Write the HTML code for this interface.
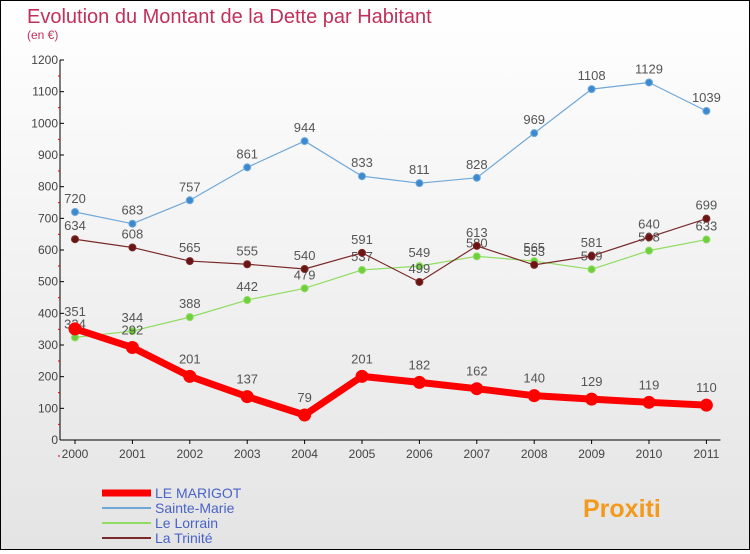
<!DOCTYPE html>
<html><head><meta charset="utf-8"><style>
body{margin:0}
#c{width:748px;height:548px;border:1px solid #000;background:linear-gradient(#fff,#e4e4e4);position:relative;font-family:"Liberation Sans",sans-serif}
text{font-family:"Liberation Sans",sans-serif}
</style></head><body>
<div id="c">
<svg id="s" width="748" height="548"></svg>
</div>
<script>
const years=[2000,2001,2002,2003,2004,2005,2006,2007,2008,2009,2010,2011];
const marigot=[351,292,201,137,79,201,182,162,140,129,119,110];
const sainteMarie=[720,683,757,861,944,833,811,828,969,1108,1129,1039];
const lorrain=[324,344,388,442,479,537,549,580,565,539,598,633];
const trinite=[634,608,565,555,540,591,499,613,553,581,640,699];
const yTicks=[0,100,200,300,400,500,600,700,800,900,1000,1100,1200];
const NS="http://www.w3.org/2000/svg";
const s=document.getElementById('s');
function X(i){return 74+i*57.4;}
function Y(v){return 439-v*380/1200;}
function el(t,a,p){const e=document.createElementNS(NS,t);for(const k in a)e.setAttribute(k,a[k]);(p||s).appendChild(e);return e;}
let t=el('text',{x:26,y:22,fill:'#c0305a','font-size':20});t.textContent='Evolution du Montant de la Dette par Habitant';


t=el('text',{x:26,y:38,fill:'#c0305a','font-size':12});t.textContent='(en €)';


let ax=el('line',{x1:59,y1:Y(1200),x2:59,y2:Y(0),stroke:'#000'});


ax=el('line',{x1:59,y1:Y(0),x2:X(11)+14,y2:Y(0),stroke:'#000'});


yTicks.forEach(v=>{el('line',{x1:59,y1:Y(v),x2:63,y2:Y(v),stroke:'#000'});
el('line',{x1:57,y1:Y(v)+16,x2:59,y2:Y(v)+16,stroke:'#d00'});
const l=el('text',{x:57,y:Y(v)+4,'text-anchor':'end','font-size':12,fill:'#444'});l.textContent=v;

});
years.forEach((y,i)=>{el('line',{x1:X(i),y1:Y(0),x2:X(i),y2:Y(0)+4,stroke:'#000'});
const l=el('text',{x:X(i),y:Y(0)+18,'text-anchor':'middle','font-size':12,fill:'#444'});l.textContent=y;

});
function series(name,data,color,w,r,fill,dy){
const g=el('g',{});


el('polyline',{points:data.map((v,i)=>X(i)+','+Y(v)).join(' '),fill:'none',stroke:color,'stroke-width':w,'stroke-linejoin':'round'},g);
data.forEach((v,i)=>{const c=el('circle',{cx:X(i),cy:Y(v),r:r,fill:fill,stroke:color,'stroke-width':1},g);


const l=el('text',{x:X(i),y:Y(v)+dy,'text-anchor':'middle','font-size':13,fill:'#555'},g);l.textContent=v;

});}
series('series-sainte-marie',sainteMarie,'#6fa8d8',1.2,3.5,'#3b8ad0',-9);
series('series-lorrain',lorrain,'#8fdc60',1.2,3.5,'#6ecf3c',-9);
series('series-trinite',trinite,'#7a2a2a',1.2,3.5,'#6a1414',-9);
series('series-marigot',marigot,'#f00',7,6,'#f00',-13);
const leg=[['LE MARIGOT','#f00',7],['Sainte-Marie','#6fa8d8',2],['Le Lorrain','#8fdc60',2],['La Trinité','#7a2a2a',2]];
leg.forEach((d,i)=>{const g=el('g',{});


const y=492+i*15;el('line',{x1:101,y1:y,x2:150,y2:y,stroke:d[1],'stroke-width':d[2]},g);
const l=el('text',{x:154,y:y+5,'font-size':14,fill:'#4a63c8'},g);l.textContent=d[0];});
t=el('text',{x:582,y:516,'font-size':25,'font-weight':'bold',fill:'#f39a1c'});t.textContent='Proxiti';


</script>
</body></html>
